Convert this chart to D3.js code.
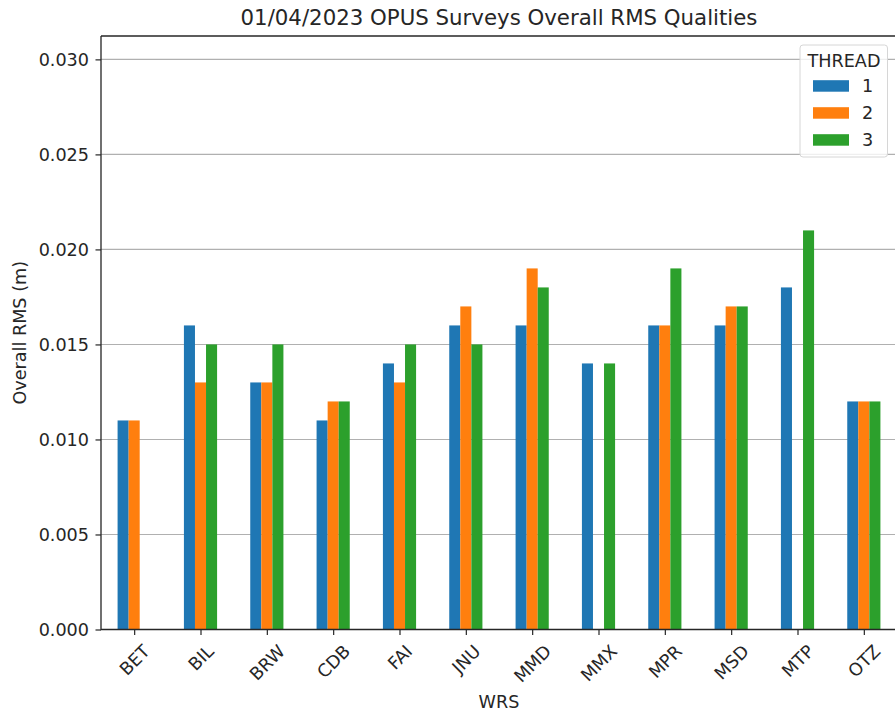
<!DOCTYPE html>
<html>
<head>
<meta charset="utf-8">
<script src="https://cdn.jsdelivr.net/npm/d3@7"></script>
<style>
  body { margin: 0; background: #fff; }
  svg { display: block; font-family: "DejaVu Sans", sans-serif; }
</style>
</head>
<body>
<svg id="chart" width="895" height="712"></svg>
<script>
const categories = ["BET","BIL","BRW","CDB","FAI","JNU","MMD","MMX","MPR","MSD","MTP","OTZ"];
const seriesNames = ["1","2","3"];
const thread1 = [0.011,0.016,0.013,0.011,0.014,0.016,0.016,0.014,0.016,0.016,0.018,0.012];
const thread2 = [0.011,0.013,0.013,0.012,0.013,0.017,0.019,null,0.016,0.017,null,0.012];
const thread3 = [null,0.015,0.015,0.012,0.015,0.015,0.018,0.014,0.019,0.017,0.021,0.012];
const colors = ["#1f77b4","#ff7f0e","#2ca02c"];
const yTicks = [0,0.005,0.010,0.015,0.020,0.025,0.030];
const titleText = "01/04/2023 OPUS Surveys Overall RMS Qualities";
const xLabel = "WRS";
const yLabel = "Overall RMS (m)";
const legendTitle = "THREAD";

const series = [thread1, thread2, thread3];
const svg = d3.select("#chart");
const L = 101, R = 897, T = 36, B = 629.5;
const FS = "17.6px", TFS = "21.3px";
const ink = "#262626";

const x = d3.scaleLinear().domain([-0.5, categories.length - 0.5]).range([L, R]);
const y = d3.scaleLinear().domain([0, 0.03123]).range([B, T]);
const barW = (x(1) - x(0)) * 0.5 / 3;

// grid
svg.append("g").selectAll("line").data(yTicks).join("line")
  .attr("x1", L).attr("x2", R)
  .attr("y1", d => y(d)).attr("y2", d => y(d))
  .attr("stroke", "#b0b0b0").attr("stroke-width", 1.1);

// bars
series.forEach((s, si) => {
  svg.append("g").selectAll("rect")
    .data(s.map((v, i) => ({v, i})).filter(d => d.v != null))
    .join("rect")
    .attr("x", d => x(d.i) + (si - 1.5) * barW)
    .attr("width", barW)
    .attr("y", d => y(d.v))
    .attr("height", d => B - y(d.v))
    .attr("fill", colors[si]);
});

// axes
const yAxis = d3.axisLeft(y).tickValues(yTicks).tickFormat(d3.format(".3f")).tickSize(5.5).tickPadding(6.5);
const gy = svg.append("g").attr("transform", `translate(${L},0)`).call(yAxis);
gy.select(".domain").remove();
gy.selectAll("text").attr("font-size", FS).attr("fill", ink).attr("font-family", "DejaVu Sans");
gy.selectAll("line").attr("stroke", ink).attr("stroke-width", 1.2);

const xAxis = d3.axisBottom(x).tickValues(d3.range(categories.length)).tickFormat(i => categories[i]).tickSize(5.5).tickPadding(6);
const gx = svg.append("g").attr("transform", `translate(0,${B})`).call(xAxis);
gx.select(".domain").remove();
gx.selectAll("line").attr("stroke", ink).attr("stroke-width", 1.2);
gx.selectAll("text").each(function() {
  const t = d3.select(this);
  t.attr("font-size", FS).attr("fill", ink).attr("font-family", "DejaVu Sans")
   .attr("dy", null).attr("y", null).attr("text-anchor", "middle").attr("dominant-baseline", "central");
  const w = this.getComputedTextLength();
  const h = 20.5;
  const off = 11.5 + (w + h) / (2 * Math.SQRT2);
  t.attr("transform", `translate(0,${off}) rotate(-45)`);
});

// frame
svg.append("path")
  .attr("d", `M${L},${T}V${B}H${R}`)
  .attr("fill", "none").attr("stroke", ink).attr("stroke-width", 1.3);
svg.append("line").attr("x1", L).attr("x2", R).attr("y1", T).attr("y2", T)
  .attr("stroke", ink).attr("stroke-width", 1.3);

// title and labels
svg.append("text").attr("x", (L + R) / 2).attr("y", 25).attr("text-anchor", "middle")
  .attr("font-size", TFS).attr("fill", ink).text(titleText);
svg.append("text").attr("x", (L + R) / 2).attr("y", 708).attr("text-anchor", "middle")
  .attr("font-size", FS).attr("fill", ink).text(xLabel);
svg.append("text").attr("transform", `translate(26,${(T + B) / 2}) rotate(-90)`).attr("text-anchor", "middle")
  .attr("font-size", FS).attr("fill", ink).text(yLabel);

// legend
const lg = svg.append("g");
lg.append("rect").attr("x", 800).attr("y", 45).attr("width", 87.5).attr("height", 112)
  .attr("rx", 3).attr("fill", "#fff").attr("fill-opacity", 0.8)
  .attr("stroke", "#d6d6d6").attr("stroke-width", 1);
lg.append("text").attr("x", 844).attr("y", 66.5).attr("text-anchor", "middle")
  .attr("font-size", FS).attr("fill", ink).text(legendTitle);
seriesNames.forEach((n, i) => {
  const cy = 86 + i * 27;
  lg.append("rect").attr("x", 813).attr("y", cy - 5.8).attr("width", 36).attr("height", 11.5).attr("fill", colors[i]);
  lg.append("text").attr("x", 862).attr("y", cy + 6.3).attr("font-size", FS).attr("fill", ink).text(n);
});
</script>
</body>
</html>
